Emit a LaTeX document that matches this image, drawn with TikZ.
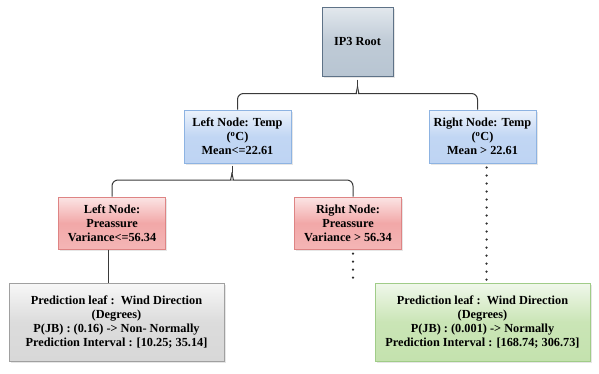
\documentclass[tikz,border=0pt]{standalone}
\usepackage{fontspec}
\setmainfont{Liberation Serif}
\newfontfamily\boxfont{Liberation Serif}
\usepackage{tikz}
\usetikzlibrary{positioning, calc, shadows}
\definecolor{rootfill}{RGB}{184,197,210}
\definecolor{rootedge}{RGB}{94,114,135}
\definecolor{tempfill}{RGB}{190,212,243}
\definecolor{tempedge}{RGB}{141,179,226}
\definecolor{presfill}{RGB}{242,168,168}
\definecolor{presedge}{RGB}{222,132,132}
\definecolor{grayfill}{RGB}{216,216,216}
\definecolor{grayedge}{RGB}{160,160,160}
\definecolor{greenfill}{RGB}{196,226,174}
\definecolor{greenedge}{RGB}{160,204,136}
\definecolor{linkgray}{RGB}{58,58,58}

\begin{document}
\begin{tikzpicture}[
    x=1pt, y=-1pt,
    box/.style={rectangle, line width=1pt, align=center, text=black,
                font=\boxfont\fontsize{12.3}{14}\selectfont\bfseries,
                drop shadow={shadow xshift=1.5pt, shadow yshift=-1.5pt, opacity=0.2}},
    rootbox/.style={box, draw=rootedge, top color=rootfill!40!white, bottom color=rootfill,
                    middle color=rootfill!90!white, minimum width=71pt, minimum height=69pt},
    tempbox/.style={box, draw=tempedge, top color=tempfill!30!white, bottom color=tempfill,
                    middle color=tempfill!95!white, minimum width=107pt, minimum height=53pt},
    presbox/.style={box, draw=presedge, top color=presfill!30!white, bottom color=presfill!85!white,
                    middle color=presfill, minimum width=107pt, minimum height=52pt},
    leafbox/.style={box, minimum width=215pt, minimum height=78pt},
    link/.style={draw=linkgray, line width=1pt},
    dots/.style={draw=linkgray!80!black, line width=2.5pt, line cap=round, dash pattern=on 0pt off 8pt}
]
\useasboundingbox (0,0) rectangle (599,373);

\node[rootbox] (root) at (357.5,41.5) {IP3 Root};
\node[tempbox] (lt) at (237.5,136.5) {Left Node: Temp\\(\textsuperscript{o}C)\\Mean<=22.61};
\node[tempbox] (rt) at (482.5,136.5) {Right Node: Temp\\(\textsuperscript{o}C)\\Mean > 22.61};
\node[presbox] (lp) at (112,223) {Left Node:\\Preassure\\Variance<=56.34};
\node[presbox] (rp) at (348,223) {Right Node:\\Preassure\\Variance > 56.34};
\node[leafbox, draw=grayedge, top color=grayfill!20!white, bottom color=grayfill, middle color=grayfill!90!white]
    (gl) at (116.5,322) {Prediction leaf :\ \ Wind Direction\\(Degrees)\\P(JB) : (0.16) -> Non- Normally\\Prediction Interval : [10.25; 35.14]};
\node[leafbox, draw=greenedge, top color=greenfill!25!white, bottom color=greenfill, middle color=greenfill!90!white]
    (gr) at (482.5,322) {Prediction leaf :\ \ Wind Direction\\(Degrees)\\P(JB) : (0.001) -> Normally\\Prediction Interval : [168.74; 306.73]};
\coordinate (rpend) at ([xshift=5pt]rp.south |- gr.north);

% brace under the root
\coordinate (rtip) at ($(root.south)+(0,3)$);
\draw[link] (rtip) -- ++(0,7);
\draw[link, rounded corners=6pt] (lt.north) |- ($(rtip)+(-7,14)$) [sharp corners]
    .. controls +(5,0) and +(0,3) .. ($(rtip)+(0,7)$);
\draw[link, rounded corners=6pt] ([xshift=-5pt]rt.north) |- ($(rtip)+(7,14)$) [sharp corners]
    .. controls +(-5,0) and +(0,3) .. ($(rtip)+(0,7)$);

% brace under the left temp node
\coordinate (ltip) at ($(lt.south)+(-5.5,2)$);
\draw[link] (ltip) -- ++(0,7);
\draw[link, rounded corners=6pt] (lp.north) |- ($(ltip)+(-7,14.5)$) [sharp corners]
    .. controls +(5,0) and +(0,3) .. ($(ltip)+(0,7)$);
\draw[link, rounded corners=6pt] ([xshift=5pt]rp.north) |- ($(ltip)+(7,14.5)$) [sharp corners]
    .. controls +(-5,0) and +(0,3) .. ($(ltip)+(0,7)$);

\draw[link] ([xshift=-4pt]lp.south) -- ([xshift=-4pt]lp.south |- gl.north);
\draw[dots] ([xshift=5pt,yshift=-4pt]rp.south) -- (rpend);
\draw[dots] ([xshift=4pt,yshift=-4pt]rt.south) -- ([xshift=4pt]rt.south |- gr.north);

\end{tikzpicture}
\end{document}
